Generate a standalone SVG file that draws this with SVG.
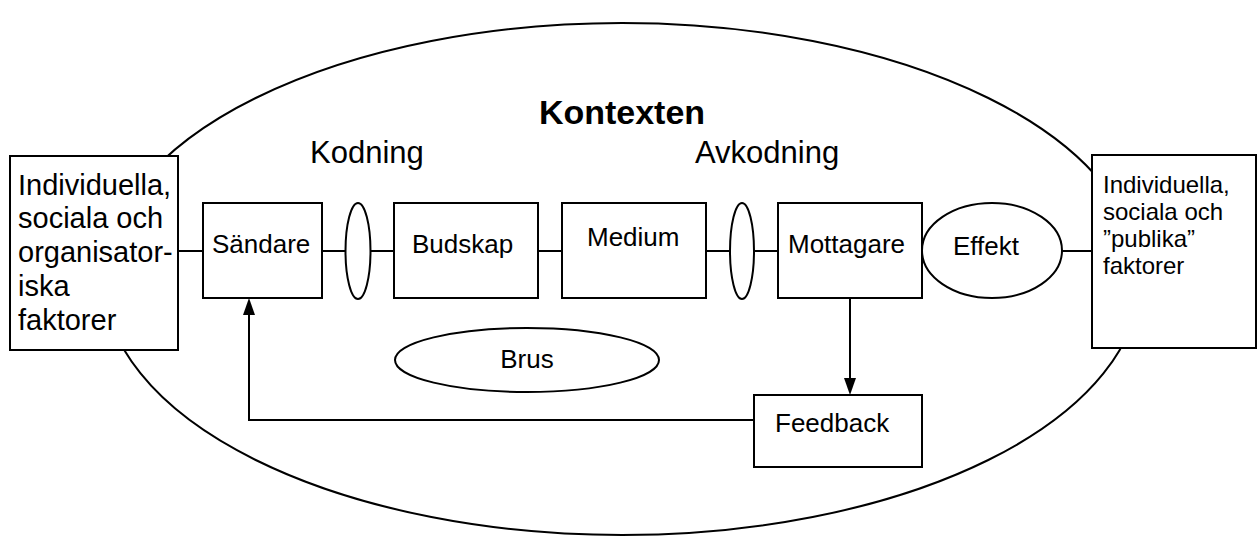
<svg xmlns="http://www.w3.org/2000/svg" width="1259" height="537" viewBox="0 0 1259 537">
<style>
.sh{fill:#fff;stroke:#000;stroke-width:2}
.ln{fill:none;stroke:#000;stroke-width:2}
text{font-family:"Liberation Sans",Arial,sans-serif;fill:#000}
.t26{font-size:26px}
.big{font-size:29px}
.mid{font-size:31px}
.rt{font-size:24px}
</style>
<rect width="1259" height="537" fill="#fff"/>
<g id="context">
<ellipse class="ln" cx="622" cy="279" rx="518" ry="256"/>
<text x="622" y="124" text-anchor="middle" font-weight="bold" font-size="34">Kontexten</text>
<text x="310" y="163" class="mid">Kodning</text>
<text x="695" y="163" class="mid">Avkodning</text>
</g>
<g id="connectors">
<line class="ln" x1="178" y1="251" x2="203" y2="251"/>
<line class="ln" x1="322" y1="251" x2="394" y2="251"/>
<line class="ln" x1="538" y1="251" x2="562" y2="251"/>
<line class="ln" x1="706" y1="251" x2="778" y2="251"/>
<line class="ln" x1="1062" y1="251" x2="1092" y2="251"/>
<path class="ln" d="M850,298 L850,380"/>
<path d="M844,378 L856,378 L850,395 Z" fill="#000"/>
<path class="ln" d="M754,420 L249,420 L249,314"/>
<path d="M243,315 L255,315 L249,298 Z" fill="#000"/>
</g>
<g id="left-factors">
<rect class="sh" x="10" y="156" width="168" height="194"/>
<text class="big" x="18"><tspan x="18" y="195">Individuella,</tspan><tspan x="18" y="228">sociala och</tspan><tspan x="18" y="262">organisator-</tspan><tspan x="18" y="296">iska</tspan><tspan x="18" y="330">faktorer</tspan></text>
</g>
<g id="right-factors">
<rect class="sh" x="1092" y="155" width="164" height="193"/>
<text class="rt" x="1103"><tspan x="1103" y="193">Individuella,</tspan><tspan x="1103" y="220">sociala och</tspan><tspan x="1103" y="247">”publika”</tspan><tspan x="1103" y="274">faktorer</tspan></text>
</g>
<g id="sandare">
<rect class="sh" x="203" y="203" width="119" height="95"/>
<text class="t26" x="212" y="253">Sändare</text>
</g>
<g id="kodning-filter">
<ellipse class="sh" cx="358" cy="251" rx="12.5" ry="48"/>
</g>
<g id="budskap">
<rect class="sh" x="394" y="203" width="144" height="95"/>
<text class="t26" x="412" y="253">Budskap</text>
</g>
<g id="medium">
<rect class="sh" x="562" y="203" width="144" height="95"/>
<text class="t26" x="587" y="246">Medium</text>
</g>
<g id="avkodning-filter">
<ellipse class="sh" cx="742" cy="251" rx="12" ry="48"/>
</g>
<g id="mottagare">
<rect class="sh" x="778" y="203" width="144" height="95"/>
<text class="t26" x="788" y="253">Mottagare</text>
</g>
<g id="effekt">
<ellipse class="sh" cx="992" cy="250.5" rx="70" ry="47.5"/>
<text class="t26" x="953" y="255">Effekt</text>
</g>
<g id="brus">
<ellipse class="sh" cx="527" cy="360" rx="132" ry="32"/>
<text class="t26" x="527" y="368" text-anchor="middle">Brus</text>
</g>
<g id="feedback">
<rect class="sh" x="754" y="395" width="168" height="72"/>
<text class="t26" x="775" y="432">Feedback</text>
</g>
</svg>
